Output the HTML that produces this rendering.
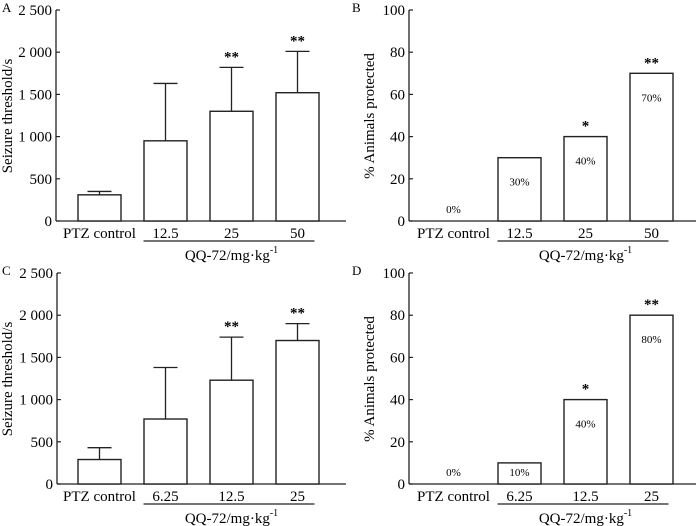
<!DOCTYPE html>
<html><head><meta charset="utf-8"><style>
html,body{margin:0;padding:0;background:#fff}
svg{display:block;font-family:"Liberation Serif",serif}
</style></head><body>
<svg id="c" width="700" height="526" viewBox="0 0 700 526" xmlns="http://www.w3.org/2000/svg"></svg>
<script>
const catsA=["PTZ control","12.5","25","50"];
const catsC=["PTZ control","6.25","12.5","25"];
const thrA=[310,950,1300,1520];
const errA=[350,1630,1820,2010];
const sigA=["","","**","**"];
const protB=[0,30,40,70];
const sigB=["","","*","**"];
const thrC=[290,770,1230,1700];
const errC=[430,1380,1740,1900];
const sigC=["","","**","**"];
const protD=[0,10,40,80];
const sigD=["","","*","**"];
const ticksThr=[0,500,1000,1500,2000,2500];
const tickLabThr=["0","500","1 000","1 500","2 000","2 500"];
const ticksPct=[0,20,40,60,80,100];

const svg=document.getElementById('c');
const NS="http://www.w3.org/2000/svg";
function mk(tag,attrs,parent,text){const e=document.createElementNS(NS,tag);for(const k in attrs)e.setAttribute(k,attrs[k]);if(text!==undefined)e.textContent=text;parent.appendChild(e);return e;}

function panel(letter,ox,oy,axX,cats,vals,errs,sigs,ticks,tickLabs,ymax,ylabel,pct,firstC){
  const g=mk('g',{},svg);
  
  
  const y0=oy+221, yTop=oy+10;
  const Y=v=>y0-(v/ymax)*(y0-yTop);
  const X=i=>firstC+i*66;
  const L=mk('text',{x:ox+2,y:oy+12,'font-size':13},g,letter);
  
  const ax=mk('line',{x1:axX,y1:yTop,x2:axX,y2:y0,stroke:'#222','stroke-width':1.3},g);
  
  const xa=mk('line',{x1:axX,y1:y0,x2:ox+346,y2:y0,stroke:'#222','stroke-width':1.3},g);
  
  ticks.forEach((t,i)=>{
    const y=Y(t);
    mk('line',{x1:axX,y1:y,x2:axX+4,y2:y,stroke:'#222','stroke-width':1.2},g);
    const tl=mk('text',{x:axX-4,y:y+5,'font-size':15,'text-anchor':'end'},g,tickLabs[i]);
    
  });
  const yl=mk('text',{transform:`translate(${ox+(pct?24:12)},${oy+116}) rotate(-90)`,'font-size':15,'text-anchor':'middle'},g,ylabel);
  
  vals.forEach((v,i)=>{
    const cx=X(i);
    if(v>0){
      if(errs){
        const ey=Y(errs[i]);
        mk('line',{x1:cx,y1:Y(v),x2:cx,y2:ey,stroke:'#222','stroke-width':1.3},g);
        mk('line',{x1:cx-12,y1:ey,x2:cx+12,y2:ey,stroke:'#222','stroke-width':1.3},g);
      }
      const b=mk('rect',{x:cx-21.5,y:Y(v),width:43,height:y0-Y(v),fill:'#fff',stroke:'#222','stroke-width':1.4},g);
      
      
    }
    if(pct){
      const ty=v>0?Math.min(Y(v)+28,y0-8):y0-8;
      const pl=mk('text',{x:cx,y:v>=30?Y(v)+28:y0-8+(v>0?0:0),'font-size':11,'text-anchor':'middle'},g,v+'%');
      
    }
    if(sigs[i]){
      const top=errs?Y(errs[i]):Y(v);
      const s=mk('text',{x:cx,y:top-6,'font-size':15,'font-weight':'bold','text-anchor':'middle'},g,sigs[i]);
      
    }
    const xl=mk('text',{x:cx,y:y0+17,'font-size':15,'text-anchor':'middle'},g,cats[i]);
    
  });
  mk('line',{x1:X(1)-22,y1:y0+20,x2:X(3)+17,y2:y0+20,stroke:'#222','stroke-width':1.3},g);
  const q=mk('text',{x:X(2),y:y0+39,'font-size':15,'text-anchor':'middle'},g);
  
  q.appendChild(document.createTextNode('QQ-72/mg·kg'));
  mk('tspan',{dy:-7,'font-size':10},q,'-1');
}
panel('A',0,0,56,catsA,thrA,errA,sigA,ticksThr,tickLabThr,2500,'Seizure threshold/s',false,99.5);
panel('B',350,0,409,catsA,protB,null,sigB,ticksPct,ticksPct.map(String),100,'% Animals protected',true,453.5);
panel('C',0,263,57,catsC,thrC,errC,sigC,ticksThr,tickLabThr,2500,'Seizure threshold/s',false,99.5);
panel('D',350,263,409,catsC,protD,null,sigD,ticksPct,ticksPct.map(String),100,'% Animals protected',true,453.5);
</script>
</body></html>
